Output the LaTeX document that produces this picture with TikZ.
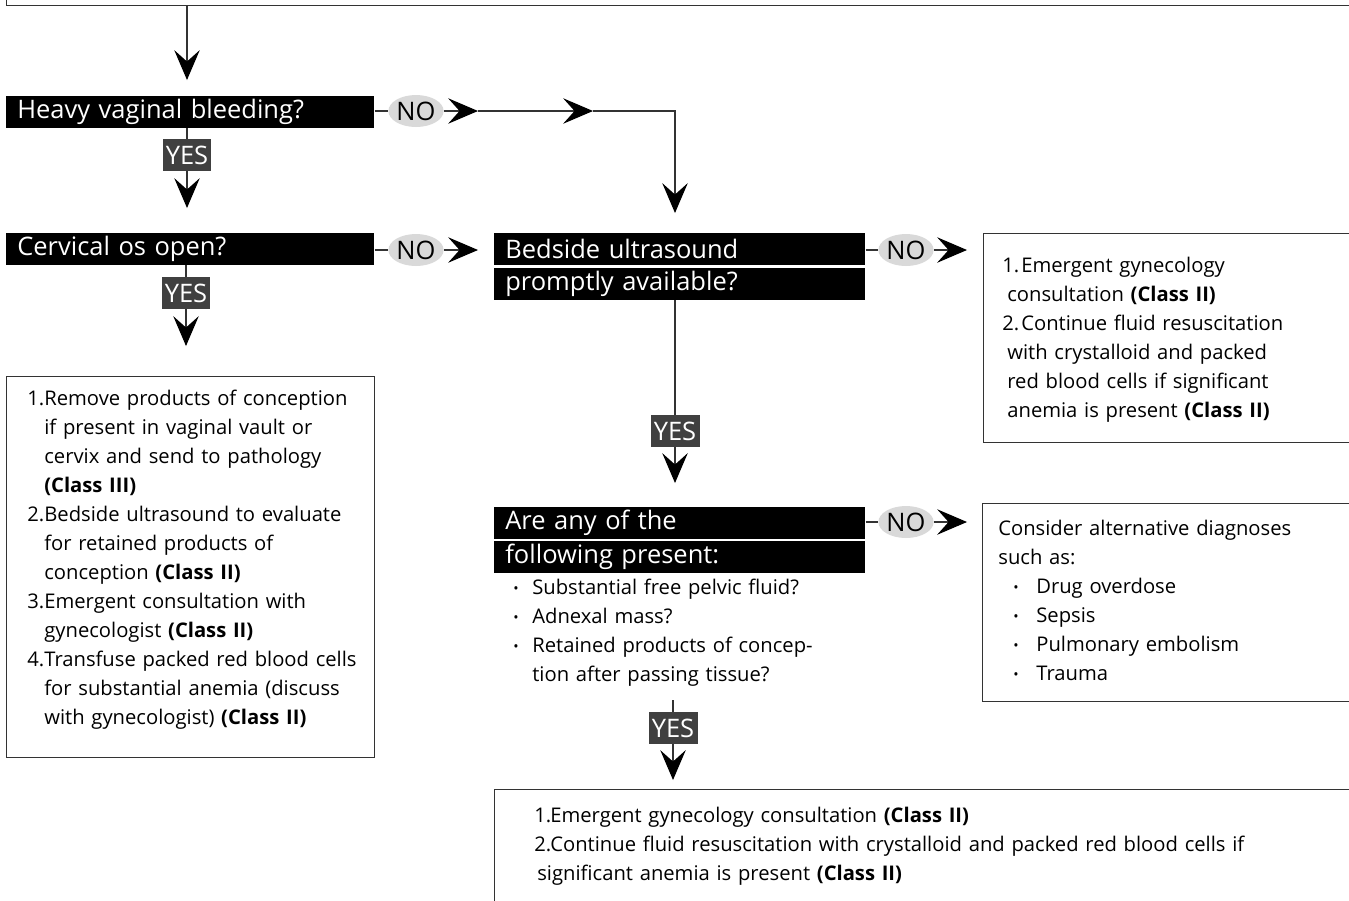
\documentclass[tikz,border=0pt]{standalone}
\usepackage{fontspec}
\setmainfont{Open Sans}
\usepackage{graphicx}
\usetikzlibrary{arrows.meta,shapes.geometric}

\newcommand{\qfont}{\fontsize{14.5}{17}\selectfont}
\newcommand{\bfont}{\fontsize{11.5}{16.5}\selectfont}
% numbered line: hang, number width, number, text
\newcommand{\itm}[4]{\noindent\hangindent=#1\hangafter=1\makebox[#2][l]{#3}#4\par}
% bullet line: indent, bullet width, text
\newcommand{\bitm}[3]{\noindent\hangindent=\dimexpr#1+#2\relax\hangafter=1\hspace*{#1}\makebox[#2][l]{\raisebox{0.1ex}{\scalebox{0.7}{•}}}#3\par}

\begin{document}
\begin{tikzpicture}[x=0.02cm, y=-0.02cm,
    ln/.style={line width=0.6pt, draw=black!80},
    arr/.style={ln, -{Stealth[length=17pt, width=14.5pt, inset=6.5pt, color=black]}},
    qbar/.style={fill=black, text=white, anchor=north west, inner xsep=0.22cm,
      inner ysep=0pt, minimum height=0.63cm, align=left, font=\qfont},
    yes/.style={fill=black!75, text=white, inner xsep=0.05cm, inner ysep=0pt,
      minimum width=0.98cm, minimum height=0.63cm, font=\qfont},
    nobubble/.style={ellipse, fill=black!15, inner sep=0pt, minimum width=0.94cm,
      minimum height=0.64cm, font=\qfont},
    box/.style={draw=black!80, line width=0.6pt, anchor=north west, inner sep=0pt},
    txt/.style={anchor=north west, inner sep=0pt, align=left, font=\bfont}]

  \useasboundingbox (0,0) rectangle (1349,900);
  \clip (0,0) rectangle (1349,900);

  % start box (cut off at the top)
  \node[box, anchor=south west, minimum width=27.4cm, minimum height=1cm] (start) at (6,6) {};
  \coordinate (c0) at (187,6);

  % heavy bleeding
  \node[qbar, text width=6.92cm] (heavy) at (6,96) {Heavy vaginal bleeding?};
  \draw[arr] (c0) -- ([yshift=0.32cm]heavy.north -| c0);
  \node[yes] (yes1) at (187,155) {YES};
  \draw[ln] (heavy.south -| yes1) -- (yes1);

  % cervical os
  \node[qbar, text width=6.92cm] (cervix) at (6,233) {Cervical os open?};
  \draw[arr] (yes1) -- ([yshift=0.5cm]cervix.north -| yes1);
  \node[yes] (yes2) at (186,293) {YES};
  \draw[ln] (cervix.south -| yes2) -- (yes2);

  % os open: actions
  \node[box, minimum width=7.36cm, minimum height=7.62cm] (cervbox) at (6,376) {};
  \draw[arr] (yes2) -- ([yshift=0.6cm]cervbox.north -| yes2);
  \node[txt, text width=8cm] (cervtxt) at (27,390) {%
    \itm{0.34cm}{0.34cm}{1.}{Remove products of conception\newline if present in vaginal vault or\newline cervix and send to pathology\newline \textbf{(Class III)}}
    \itm{0.34cm}{0.34cm}{2.}{Bedside ultrasound to evaluate\newline for retained products of\newline conception \textbf{(Class II)}}
    \itm{0.34cm}{0.34cm}{3.}{Emergent consultation with\newline gynecologist \textbf{(Class II)}}
    \itm{0.34cm}{0.34cm}{4.}{Transfuse packed red blood cells\newline for substantial anemia (discuss\newline with gynecologist) \textbf{(Class II)}}};

  % no heavy bleeding
  \node[nobubble] (no1) at (416,111) {NO};
  \draw[ln] (heavy.east |- no1) -- (no1);
  \coordinate (j1) at (478,111);
  \coordinate (j2) at (593,111);
  \coordinate (j3) at (675,213);
  \draw[arr] (no1) -- (j1);
  \draw[arr] (j1) -- (j2);
  \draw[arr] (j2) -| (j3);

  % bedside ultrasound
  \node[qbar, text width=6.98cm] (bedside) at (494,233) {Bedside ultrasound};
  \node[qbar, text width=6.98cm] (bedside2) at (494,268) {promptly available?};
  \node[nobubble] (no2) at (416,250) {NO};
  \draw[ln] (cervix.east |- no2) -- (no2);
  \draw[arr] (no2) -- ([xshift=-0.32cm]bedside.west |- no2);

  % no ultrasound
  \node[box, minimum width=8cm, minimum height=4.18cm] (usbox) at (983,233) {};
  \node[nobubble] (no3) at (906,250) {NO};
  \draw[ln] (bedside.east |- no3) -- (no3);
  \draw[arr] (no3) -- ([xshift=-0.32cm]usbox.west |- no3);
  \node[txt, text width=8cm] (ustxt) at (1002,257) {%
    \itm{0.1cm}{0.38cm}{1.}{Emergent gynecology\newline consultation \textbf{(Class II)}}
    \itm{0.1cm}{0.38cm}{2.}{Continue fluid resuscitation\newline with crystalloid and packed\newline red blood cells if significant\newline anemia is present \textbf{(Class II)}}};

  % findings on ultrasound
  \node[yes] (yes3) at (675,431) {YES};
  \draw[ln] (bedside2.south -| yes3) -- (yes3);
  \node[qbar, text width=6.98cm] (anyq) at (494,507) {Are any of the};
  \node[qbar, text width=6.98cm] (anyq2) at (494,541) {following present:};
  \draw[arr] (yes3) -- ([yshift=0.48cm]anyq.north -| yes3);
  \node[txt, text width=8cm] (anylist) at (513,579) {%
    \bitm{0cm}{0.38cm}{Substantial free pelvic fluid?}
    \bitm{0cm}{0.38cm}{Adnexal mass?}
    \bitm{0cm}{0.38cm}{Retained products of concep-\newline tion after passing tissue?}};

  % none present
  \node[box, minimum width=8cm, minimum height=3.96cm] (altbox) at (982,503) {};
  \node[nobubble] (no4) at (906,522) {NO};
  \draw[ln] (anyq.east |- no4) -- (no4);
  \draw[arr] (no4) -- ([xshift=-0.3cm]altbox.west |- no4);
  \node[txt, text width=8cm] (alttxt) at (998,520) {%
    \noindent Consider alternative diagnoses\newline such as:\par
    \bitm{0.3cm}{0.46cm}{Drug overdose}
    \bitm{0.3cm}{0.46cm}{Sepsis}
    \bitm{0.3cm}{0.46cm}{Pulmonary embolism}
    \bitm{0.3cm}{0.46cm}{Trauma}};

  % any present
  \coordinate (c4) at (673,700);
  \node[yes] (yes4) at (673,728) {YES};
  \draw[ln] (c4) -- (yes4);
  \node[box, minimum width=18cm, minimum height=5cm] (endbox) at (494,789) {};
  \draw[arr] (yes4) -- ([yshift=0.18cm]endbox.north -| yes4);
  \node[txt, text width=17cm] (endtxt) at (534,807) {%
    \itm{0.06cm}{0.32cm}{1.}{Emergent gynecology consultation \textbf{(Class II)}}
    \itm{0.06cm}{0.32cm}{2.}{Continue fluid resuscitation with crystalloid and packed red blood cells if\newline significant anemia is present \textbf{(Class II)}}};

\end{tikzpicture}
\end{document}
